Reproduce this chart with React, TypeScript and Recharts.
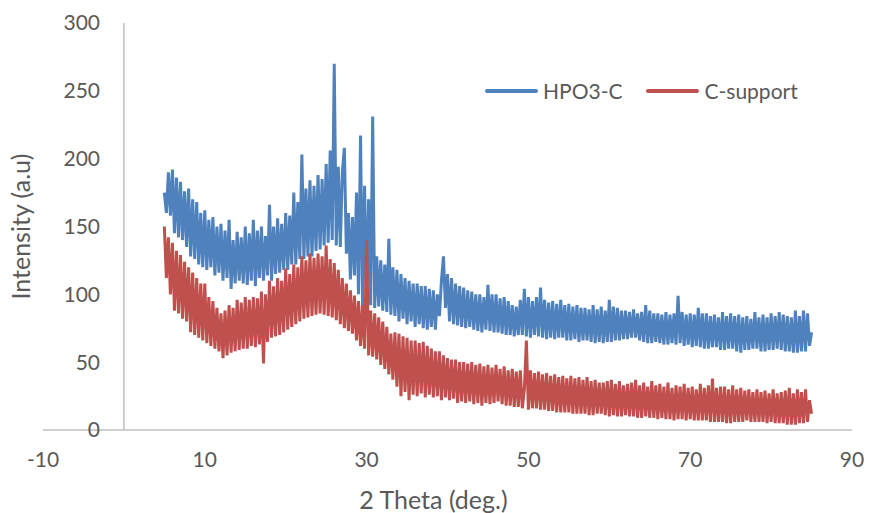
import { LineChart, Line, XAxis, YAxis, ReferenceLine, Legend } from 'recharts'

const FONT = 'Lato, "Open Sans", sans-serif'
const TEXT = '#595959'
const GRID = '#BFBFBF'

// scan grid of the diffractometer (deg. 2θ)
const thetaStart = 5
const thetaStep = 0.25

// HPO3-C intensities, 5.00 .. 85.00 every 0.25° (one row = 5°)
const hpo3C = [
  175, 160, 190, 158, 192, 145, 186, 142, 183, 140, 176, 135, 178, 128, 170, 126, 168, 122, 160, 120,
  162, 118, 155, 120, 157, 114, 150, 116, 152, 110, 147, 112, 155, 104, 140, 108, 146, 110, 142, 108,
  150, 107, 145, 110, 155, 106, 147, 112, 150, 110, 143, 114, 166, 110, 150, 115, 156, 116, 152, 118,
  160, 118, 158, 122, 175, 122, 168, 126, 203, 126, 178, 128, 184, 128, 180, 132, 188, 133, 185, 136,
  196, 138, 206, 140, 270, 136, 194, 135, 190, 208, 130, 160, 111, 157, 114, 175, 100, 217, 92, 180,
  95, 170, 92, 231, 90, 128, 91, 125, 88, 122, 87, 141, 85, 120, 84, 118, 80, 115, 82, 112,
  78, 110, 80, 108, 76, 108, 78, 106, 75, 106, 74, 104, 76, 103, 74, 100, 84, 110, 128, 90,
  115, 80, 112, 78, 108, 77, 106, 76, 105, 75, 103, 76, 102, 74, 100, 73, 100, 72, 98, 74,
  107, 73, 100, 72, 100, 72, 97, 71, 98, 70, 95, 70, 92, 69, 91, 70, 96, 70, 104, 69,
  98, 68, 95, 70, 98, 69, 105, 68, 96, 67, 94, 68, 95, 67, 93, 68, 96, 68, 92, 66,
  93, 66, 91, 67, 92, 65, 90, 66, 90, 66, 89, 65, 92, 64, 89, 65, 91, 64, 88, 65,
  96, 65, 91, 66, 90, 66, 88, 67, 88, 67, 87, 68, 89, 68, 86, 66, 87, 65, 92, 64,
  88, 64, 86, 65, 86, 64, 85, 63, 87, 63, 85, 64, 86, 63, 99, 64, 87, 62, 85, 63,
  86, 61, 85, 62, 90, 61, 86, 60, 86, 60, 84, 61, 85, 61, 83, 59, 87, 59, 84, 60,
  86, 60, 84, 58, 85, 57, 83, 59, 84, 59, 82, 60, 87, 60, 83, 58, 85, 58, 83, 59,
  86, 59, 84, 60, 87, 59, 85, 58, 84, 58, 83, 57, 88, 57, 84, 58, 88, 58, 86, 62,
  72,
]

// C-support intensities, same grid
const cSupport = [
  150, 112, 142, 100, 138, 88, 132, 86, 129, 82, 124, 80, 120, 72, 116, 70, 112, 68, 108, 66,
  108, 64, 98, 62, 95, 60, 90, 58, 86, 53, 88, 55, 92, 57, 90, 58, 96, 59, 94, 60,
  98, 60, 96, 62, 98, 61, 97, 63, 102, 49, 100, 65, 110, 68, 106, 69, 112, 70, 110, 72,
  119, 74, 115, 76, 122, 78, 120, 80, 128, 82, 125, 83, 130, 84, 127, 85, 130, 86, 128, 85,
  136, 84, 126, 83, 123, 81, 118, 78, 112, 75, 108, 73, 103, 71, 99, 66, 95, 62, 92, 60,
  140, 55, 88, 54, 86, 52, 83, 48, 80, 45, 76, 41, 71, 37, 72, 32, 71, 25, 69, 28,
  68, 22, 66, 26, 66, 25, 64, 27, 65, 24, 62, 26, 60, 24, 58, 25, 58, 22, 55, 24,
  53, 22, 52, 23, 52, 20, 50, 21, 50, 20, 49, 21, 50, 19, 48, 20, 49, 18, 47, 20,
  48, 19, 46, 20, 48, 21, 45, 19, 47, 18, 44, 18, 45, 17, 43, 17, 44, 16, 30, 66,
  15, 44, 16, 42, 16, 43, 15, 41, 15, 42, 14, 40, 14, 41, 13, 39, 13, 40, 13, 38,
  13, 40, 12, 38, 12, 39, 12, 37, 12, 39, 11, 36, 11, 37, 12, 35, 12, 35, 11, 36,
  10, 37, 11, 34, 10, 36, 10, 33, 11, 34, 10, 35, 10, 37, 9, 33, 9, 35, 10, 32,
  9, 36, 9, 33, 8, 34, 9, 32, 8, 35, 8, 31, 7, 33, 8, 32, 8, 34, 7, 31,
  8, 32, 7, 30, 7, 34, 7, 31, 7, 33, 6, 38, 6, 31, 6, 32, 6, 32, 5, 30,
  5, 33, 6, 30, 6, 31, 6, 29, 7, 30, 6, 28, 6, 30, 6, 28, 6, 29, 5, 27,
  6, 30, 5, 27, 5, 28, 5, 29, 4, 31, 4, 27, 4, 30, 5, 28, 5, 30, 6, 22,
  12,
]

const seriesNames = ['HPO3-C', 'C-support']
const xTicks = [-10, 10, 30, 50, 70, 90]
const yTicks = [0, 50, 100, 150, 200, 250, 300]

const data = hpo3C.map((v, i) => ({
  theta: thetaStart + i * thetaStep,
  hpo3C: v,
  cSupport: cSupport[i],
}))

function LegendBox({ payload }: any) {
  const items = seriesNames
    .map(n => (payload || []).find((p: any) => p.value === n))
    .filter(Boolean)
  return (
    <div style={{ display: 'flex', alignItems: 'center', fontFamily: FONT, fontSize: 21, color: TEXT, whiteSpace: 'nowrap' }}>
      {items.map((p: any) => (
        <div key={p.value} style={{ display: 'flex', alignItems: 'center', marginRight: 24 }}>
          <span style={{ display: 'inline-block', width: 53, height: 4, background: p.color, borderRadius: 2, marginRight: 5 }} />
          {p.value}
        </div>
      ))}
    </div>
  )
}

export default function App() {
  return (
    <div style={{ position: 'absolute', left: 0, top: 0, fontFamily: FONT, background: '#fff' }}>
      <LineChart width={869} height={513} data={data} margin={{ top: 23, right: 17, left: 0, bottom: 0 }}>
        <XAxis
          dataKey="theta"
          type="number"
          domain={[-10, 90]}
          ticks={xTicks}
          height={83}
          axisLine={{ stroke: GRID, strokeWidth: 1.5 }}
          tickLine={false}
          tickMargin={16}
          tick={{ fill: TEXT, fontSize: 21, fontFamily: FONT }}
          label={{ value: '2 Theta (deg.)', position: 'insideBottom', offset: 4, dx: -14, fill: TEXT, fontSize: 25, fontFamily: FONT }}
        />
        <YAxis
          domain={[0, 300]}
          ticks={yTicks}
          width={43}
          axisLine={false}
          tickLine={false}
          tickMargin={-63}
          tick={{ fill: TEXT, fontSize: 21, fontFamily: FONT }}
          label={{ value: 'Intensity (a.u)', angle: -90, position: 'center', fill: TEXT, fontSize: 25, fontFamily: FONT }}
        />
        <ReferenceLine x={0} stroke={GRID} strokeWidth={1.5} />
        <Legend
          layout="horizontal"
          verticalAlign="middle"
          align="center"
          wrapperStyle={{ top: 78, left: 485, width: 'auto' }}
          content={<LegendBox />}
        />
        <Line name="HPO3-C" dataKey="hpo3C" type="linear" stroke="#4F81BD" strokeWidth={3} dot={false} isAnimationActive={false} />
        <Line name="C-support" dataKey="cSupport" type="linear" stroke="#C0504D" strokeWidth={3} dot={false} isAnimationActive={false} />
      </LineChart>
    </div>
  )
}
